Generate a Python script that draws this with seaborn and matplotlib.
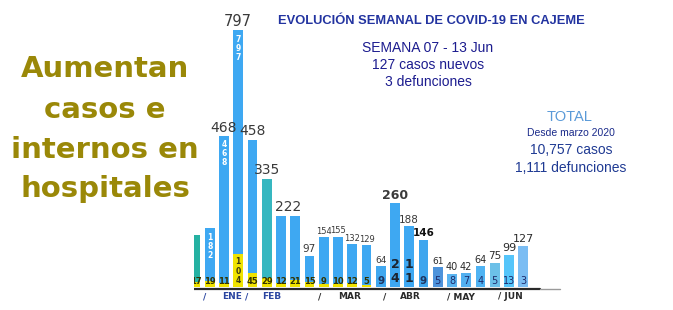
import matplotlib
matplotlib.use("Agg")
import matplotlib.pyplot as plt
import numpy as np
import pandas as pd
import seaborn as sns

# ---------------- data ----------------
weeks = list(range(24))
cases = [160, 182, 468, 797, 458, 335, 222, 222, 97, 154, 155, 132, 129,
         64, 260, 188, 146, 61, 40, 42, 64, 75, 99, 127]
deaths = [17, 19, 11, 104, 45, 29, 12, 21, 15, 9, 10, 12, 5,
          9, 24, 11, 9, 5, 8, 7, 4, 5, 13, 3]
month_labels = ["/", "ENE", "/", "FEB", "/", "MAR", "/", "ABR", "/ MAY", "/ JUN"]
month_pos = [0.67, 2.56, 3.6, 5.37, 8.74, 10.84, 13.3, 15.1, 18.6, 22.1]

title = "EVOLUCIÓN SEMANAL DE COVID-19 EN CAJEME"
week_lines = ["SEMANA 07 - 13 Jun", "127 casos nuevos", "3 defunciones"]
total_head = "TOTAL"
total_sub = "Desde marzo 2020"
total_lines = ["10,757 casos", "1,111 defunciones"]
headline = ["Aumentan", "casos e", "internos en", "hospitales"]

# ---------------- styles ----------------
BLUE = "#3ea8f2"
bar_colors = ["#25b1a2", BLUE, BLUE, BLUE, BLUE, "#36b7c0", BLUE, BLUE, BLUE,
              BLUE, BLUE, BLUE, BLUE, "#40a8f0", BLUE, BLUE, "#3fa6ee",
              "#4d93db", "#5ab4f0", "#52b0f0", "#4fb3f3", "#6cc0e8",
              "#55c5fa", "#7bbdf3"]
YELLOW = "#f0e300"
n_yellow = 13
show_value = [False, False, True, True, True, True, False, False, True, True,
              True, True, True, True, True, True, True, True, True, True,
              True, True, True, True]
value_size = [8, 8, 10, 10.5, 10, 10, 10, 10, 7.5, 6, 6, 6, 6,
              6.5, 9, 7.5, 7.5, 6.5, 7, 7, 7, 7.5, 8, 8]
value_weight = ["normal"] * 14 + ["bold", "normal", "bold"] + ["normal"] * 7
value_color = ["#3a3a3a"] * 16 + ["#111111"] + ["#2a2a2a"] * 7

W, H = 673, 310
fig = plt.figure(figsize=(W / 100, H / 100), dpi=100)
fig.patch.set_facecolor("white")

def fx(px):
    return px / W

def fy(py):
    return 1 - py / H

# axes geometry (pixels)
AX_LEFT = 194
X0, DX = 195.5, 14.25      # bar centre of week 0, spacing
BASE, SCALE = 287, 0.322   # baseline pixel row, px per case

ax = fig.add_axes([fx(AX_LEFT), 0, 1 - fx(AX_LEFT), 1])
sns.set_style("white")

df = pd.DataFrame({"week": weeks, "cases": cases, "deaths": deaths,
                   "key": [f"w{i}" for i in weeks]})
palette = {f"w{i}": c for i, c in zip(weeks, bar_colors)}

sns.barplot(data=df, x="week", y="cases", hue="key", palette=palette,
            dodge=False, legend=False, native_scale=True, width=0.7,
            errorbar=None, saturation=1, ax=ax, linewidth=0)
sns.barplot(data=df.iloc[:n_yellow], x="week", y="deaths", color=YELLOW,
            native_scale=True, width=0.7, errorbar=None, saturation=1,
            ax=ax, linewidth=0)

ax.set_xlim((AX_LEFT - X0) / DX, (W - X0) / DX)
ax.set_ylim(-(H - BASE) / SCALE, BASE / SCALE)
ax.axis("off")

# baseline
ax.axhline(-1.5 / SCALE, xmin=0, xmax=(540 - AX_LEFT) / (W - AX_LEFT),
           color="#2a2a2a", lw=1.6)
ax.axhline(-1.5 / SCALE, xmin=(540 - AX_LEFT) / (W - AX_LEFT),
           xmax=(560 - AX_LEFT) / (W - AX_LEFT), color="#9a9a9a", lw=1.0)

# value labels above bars
for i in weeks:
    if show_value[i]:
        ax.annotate(str(cases[i]), xy=(i, cases[i]), xytext=(0, 1.2),
                    textcoords="offset points", ha="center", va="bottom",
                    fontsize=value_size[i], fontweight=value_weight[i],
                    color=value_color[i], family="DejaVu Sans")
# shared label for the two 222 bars
ax.annotate(str(cases[7]), xy=((weeks[6] + weeks[7]) / 2, cases[7]),
            xytext=(0, 1.2), textcoords="offset points", ha="center",
            va="bottom", fontsize=10, color="#3a3a3a", family="DejaVu Sans")

# vertical digits inside bars
for i in [1, 2, 3]:
    ax.annotate("\n".join(str(cases[i])), xy=(i, cases[i]), xytext=(0, -3),
                textcoords="offset points", ha="center", va="top",
                fontsize=5.5, fontweight="bold", color="white",
                linespacing=1.0, family="DejaVu Sans")

# death labels
vertical_deaths = {3: ("#3a3a10", 5.5, "bold"), 14: ("#1c2430", 9, "bold"),
                   15: ("#1c2430", 9, "bold")}
for i in weeks:
    if i in vertical_deaths:
        c, s, w = vertical_deaths[i]
        ax.annotate("\n".join(str(deaths[i])), xy=(i, 0), xytext=(0, 1.5),
                    textcoords="offset points", ha="center", va="bottom",
                    fontsize=s, fontweight=w, color=c, linespacing=1.05,
                    family="DejaVu Sans")
        continue
    if i < n_yellow:
        c, s, w, off = "#333300", 6, "bold", 5.0
    elif i in (13, 16):
        c, s, w, off = "#1e3560", 7.5, "bold", 6.0
    else:
        c, s, w, off = "#1e2a6a", 7, "normal", 6.0
    ax.text(i, off / SCALE, str(deaths[i]), ha="center", va="center",
            fontsize=s, fontweight=w, color=c, family="DejaVu Sans",
            clip_on=True)

# month labels
for lab, p in zip(month_labels, month_pos):
    col = "#2a45a0" if p < 7 else "#2a2a2a"
    ax.annotate(lab, xy=(p, 0), xytext=(0, -(297 - BASE) / 1.389),
                textcoords="offset points", ha="center", va="center",
                fontsize=6.5, fontweight="bold", color=col,
                family="DejaVu Sans")

# ---------------- texts ----------------
fig.text(fx(431), fy(21), title, ha="center", va="center", fontsize=9.3,
         fontweight="bold", color="#2233a0", family="Liberation Sans")
for line, py in zip(week_lines, [48, 65, 82]):
    fig.text(fx(428), fy(py), line, ha="center", va="center", fontsize=10,
             color="#1c1c8f", family="Liberation Sans")
fig.text(fx(570), fy(117), total_head, ha="center", va="center",
         fontsize=10.5, color="#5a9ad8", family="Liberation Sans")
fig.text(fx(571), fy(133), total_sub, ha="center", va="center",
         fontsize=7.5, color="#1a2a8a", family="Liberation Sans")
for line, py in zip(total_lines, [150, 168]):
    fig.text(fx(571), fy(py), line, ha="center", va="center", fontsize=10,
             color="#1f3a93", family="Liberation Sans")

for line, py in zip(headline, [77, 118, 158, 197]):
    fig.text(fx(105), fy(py), line, ha="center", va="baseline",
             fontsize=21, fontweight="bold", color="#9a8808",
             family="DejaVu Sans")

fig.savefig("out.png", dpi=100)
